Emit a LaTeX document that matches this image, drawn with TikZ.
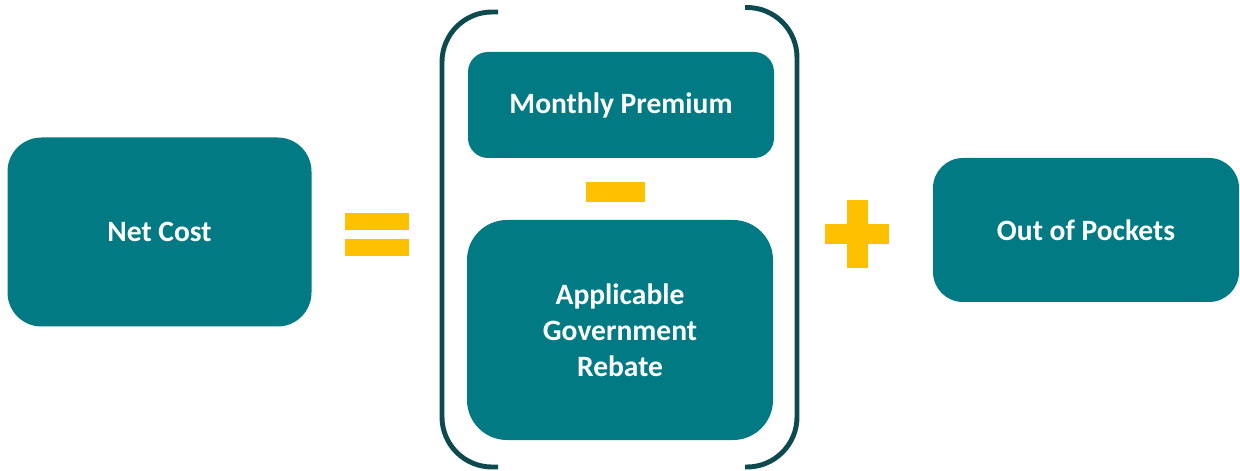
\documentclass[tikz,border=0pt]{standalone}
\usepackage{fontspec}
\setmainfont{Carlito}
\definecolor{tealbox}{HTML}{017A84}
\definecolor{bracketteal}{HTML}{0D4A50}
\definecolor{opyellow}{HTML}{FFC000}
\begin{document}
\begin{tikzpicture}[>=stealth]
  \tikzset{
    costbox/.style={fill=tealbox,text=white,font=\fontsize{16.8}{20.5}\selectfont\bfseries,align=center,inner sep=0pt},
    opbar/.style={fill=opyellow,inner sep=0pt},
    bracket/.style={draw=bracketteal,line width=2.8pt,rounded corners=1cm}
  }
  \useasboundingbox (0,0) rectangle (24.8,-9.42);
  % left side
  \node[costbox,minimum width=6.08cm,minimum height=3.78cm,rounded corners=0.68cm] (netcost) at (3.19,-4.64) {Net Cost};
  \node[opbar,minimum width=1.28cm,minimum height=0.34cm] (eqtop) at (7.54,-4.43) {};
  \node[opbar,minimum width=1.28cm,minimum height=0.34cm] (eqbot) at (7.54,-4.95) {};
  % bracket group
  \draw[bracket](9.96,-0.24)--(8.84,-0.24)--(8.84,-9.34)--(9.96,-9.34);
  \draw[bracket](14.90,-0.15)--(15.94,-0.15)--(15.94,-9.34)--(14.90,-9.34);
  \node[costbox,minimum width=6.12cm,minimum height=2.12cm,rounded corners=0.4cm] (premium) at (12.42,-2.10) {Monthly Premium};
  \node[opbar,minimum width=1.18cm,minimum height=0.4cm] (minus) at (12.31,-3.84) {};
  \node[costbox,minimum width=6.12cm,minimum height=4.4cm,rounded corners=0.8cm] (rebate) at (12.40,-6.60) {Applicable\\Government\\Rebate};
  % right side
  \node[opbar,minimum width=1.28cm,minimum height=0.4cm] (plush) at (17.14,-4.68) {};
  \node[opbar,minimum width=0.42cm,minimum height=1.36cm] (plusv) at (17.15,-4.68) {};
  \node[costbox,minimum width=6.12cm,minimum height=2.88cm,rounded corners=0.6cm] (pockets) at (21.72,-4.60) {Out of Pockets};
\end{tikzpicture}
\end{document}
